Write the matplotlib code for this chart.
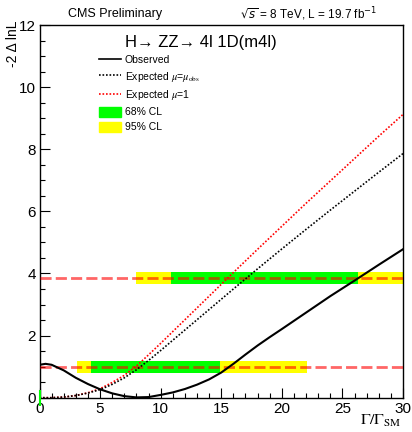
import matplotlib
matplotlib.use("Agg")
import matplotlib.pyplot as plt
from matplotlib.lines import Line2D
from matplotlib.patches import Patch
from matplotlib.ticker import MultipleLocator

plt.rcParams['font.family'] = ['Liberation Sans', 'DejaVu Sans']
plt.rcParams['mathtext.fontset'] = 'stix'

# observed scan
obs_x = [0, 0.5, 1, 2, 3, 4, 5, 6, 7, 8, 9, 10, 11, 12, 13, 14, 15, 16, 17, 18, 19, 20, 22, 24, 26, 28, 30]
obs_y = [1.06, 1.09, 1.06, 0.88, 0.64, 0.44, 0.27, 0.14, 0.05, 0.01, 0.02, 0.09, 0.17, 0.28, 0.42, 0.59,
         0.81, 1.09, 1.39, 1.68, 1.95, 2.21, 2.74, 3.27, 3.77, 4.28, 4.78]

# expected scans
exp_x = [0, 1, 2, 3, 4, 5, 6, 7, 8, 9, 10, 11, 12, 14, 16, 18, 20, 22, 24, 26, 28, 30]
exp_obs_y = [0, 0.0, 0.02, 0.07, 0.15, 0.26, 0.43, 0.64, 0.9, 1.2, 1.52, 1.85, 2.18, 2.84, 3.5, 4.15,
             4.79, 5.42, 6.04, 6.65, 7.26, 7.86]
exp_sm_y = [0, 0.0, 0.02, 0.07, 0.16, 0.29, 0.49, 0.72, 1.02, 1.38, 1.75, 2.13, 2.51, 3.27, 4.03, 4.78,
            5.52, 6.26, 6.98, 7.7, 8.42, 9.12]

# CL lines and bands
cl_levels = [1.0, 3.84]
band68_lo = [4.26, 10.86]
band68_hi = [14.88, 26.26]
band95_lo = [3.13, 7.99]
band95_hi = [22.1, 30.0]
band_height = 0.39

green = '#00ff00'
yellow = '#ffff00'

fig = plt.figure(figsize=(4.12, 4.32), dpi=100)
ax = fig.add_axes([39.5 / 412, 1 - 397.7 / 432, 363.5 / 412, 372.7 / 432])

for lvl, lo95, hi95, lo68, hi68 in zip(cl_levels, band95_lo, band95_hi, band68_lo, band68_hi):
    ax.barh(lvl, hi95 - lo95, left=lo95, height=band_height, color=yellow, zorder=1)
    ax.barh(lvl, hi68 - lo68, left=lo68, height=band_height, color=green, zorder=2)
    ax.axhline(lvl, color=(1, 0, 0, 0.6), lw=2, dashes=(4, 1.5), zorder=3)

ax.plot(exp_x, exp_sm_y, color='red', lw=1.2, ls=(0, (1, 1.1)), zorder=4)
ax.plot(exp_x, exp_obs_y, color='black', lw=1.2, ls=(0, (1, 1.1)), zorder=4)
ax.plot(obs_x, obs_y, color='black', lw=1.5, zorder=5)
ax.plot(0, 0, marker='|', color=green, ms=11, mew=1.5, clip_on=False, zorder=6)

ax.set_xlim(0, 30)
ax.set_ylim(0, 12)
ax.xaxis.set_major_locator(MultipleLocator(5))
ax.xaxis.set_minor_locator(MultipleLocator(1))
ax.yaxis.set_major_locator(MultipleLocator(2))
ax.yaxis.set_minor_locator(MultipleLocator(0.5))
ax.tick_params(which='both', direction='in', top=False, right=False, labelsize=11, width=0.8)
ax.tick_params(which='major', length=7.2)
ax.tick_params(which='minor', length=3.6)
ax.tick_params(axis='y', pad=2.5)
ax.tick_params(axis='x', pad=3)
for s in ax.spines.values():
    s.set_linewidth(1.0)

ax.text(0.995, -0.042, r'$\Gamma/\Gamma_{\rm SM}$', transform=ax.transAxes, ha='right', va='top', fontsize=11.5)
ax.text(-0.073, 1.013, '-2 Δ lnL', transform=ax.transAxes, rotation=90, ha='center', va='top', fontsize=10)

fig.text(115.5 / 412, 1 - 14 / 432, 'CMS Preliminary', ha='center', va='center', fontsize=9)
fig.text(309 / 412, 1 - 14 / 432, r'$\sqrt{s}$ = 8 TeV, L = 19.7 fb$^{-1}$', ha='center', va='center',
         fontsize=8.5, math_fontfamily='dejavusans')

ax.text(0.235, 0.952, 'H→ ZZ→ 4l 1D(m4l)', transform=ax.transAxes, ha='left', va='center', fontsize=12)

handles = [
    Line2D([], [], color='black', lw=1.2),
    Line2D([], [], color='black', lw=1.2, ls=(0, (1, 1.1))),
    Line2D([], [], color='red', lw=1.2, ls=(0, (1, 1.1))),
    Patch(color=green),
    Patch(color=yellow),
]
labels = ['Observed', r'Expected $\mu$=$\mu_{\rm obs}$', r'Expected $\mu$=1', '68% CL', '95% CL']
ax.legend(handles, labels, loc='upper left', bbox_to_anchor=(0.163, 0.921), frameon=False,
          fontsize=7.5, borderpad=0, borderaxespad=0, handlelength=2.1, handleheight=1.05,
          handletextpad=0.4, labelspacing=0.45)

fig.savefig('out.png', dpi=100)
